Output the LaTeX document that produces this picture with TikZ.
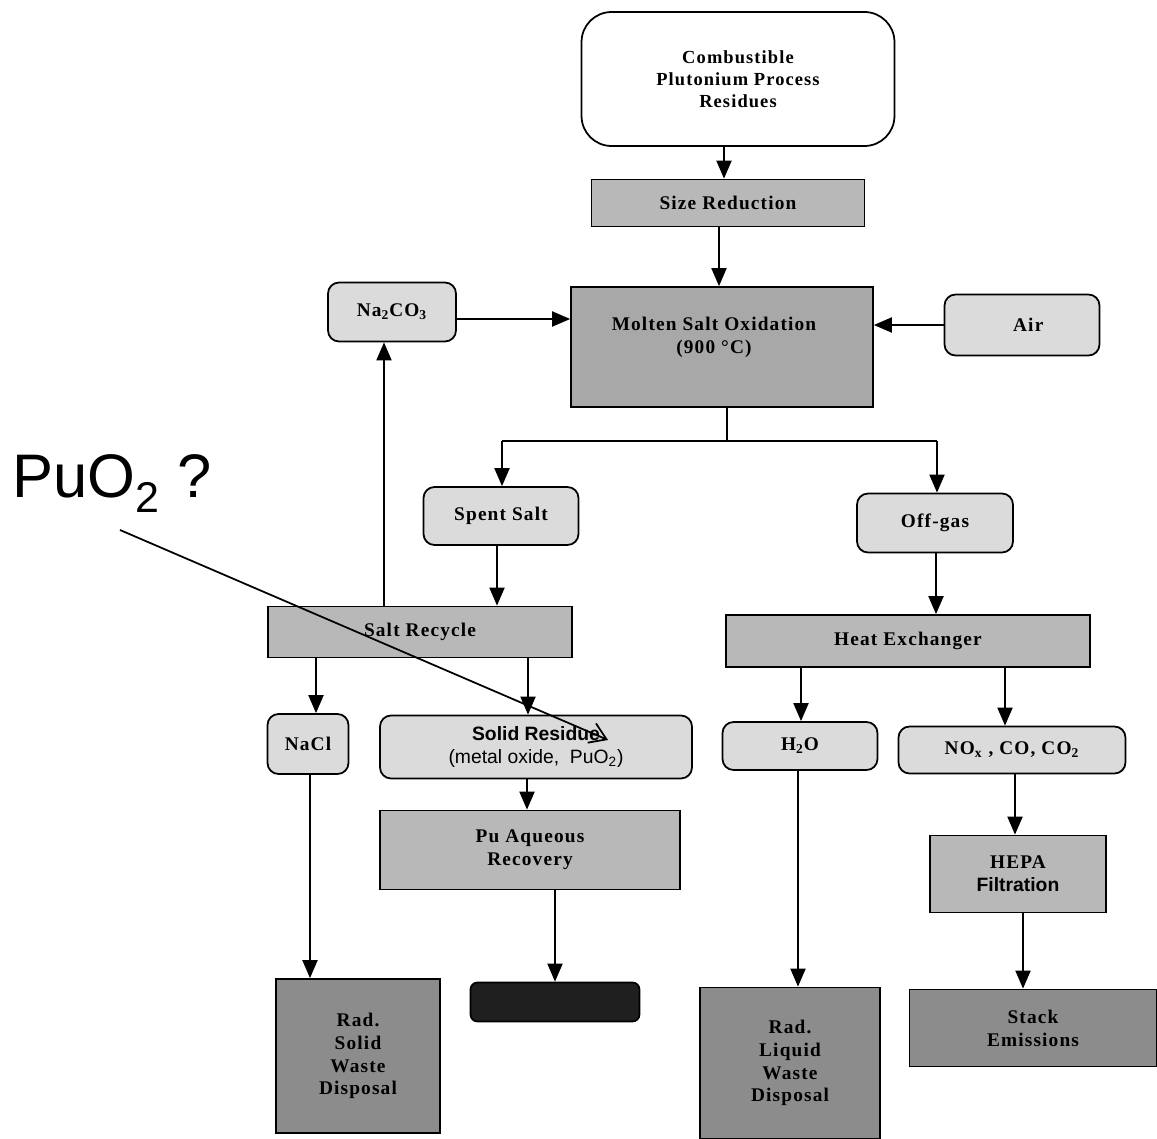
\documentclass[tikz,border=0pt]{standalone}
\usepackage{fontspec}
\setmainfont{Liberation Serif}
\newfontfamily\boxfont[LetterSpace=6]{Liberation Serif}
\newfontfamily\arialfont{Liberation Sans}
\usetikzlibrary{arrows.meta}
\definecolor{lightfill}{gray}{0.86}
\definecolor{midfill}{gray}{0.72}
\definecolor{msofill}{gray}{0.66}
\definecolor{darkfill}{gray}{0.55}
\tikzset{
  px/.style={x=0.02cm,y=-0.02cm},
  base/.style={draw=black,line width=1pt,align=center,inner sep=2pt,
    font=\boxfont\bfseries\fontsize{11}{13}\selectfont},
  roundbox/.style={base,rounded corners=0.22cm,fill=lightfill},
  graybox/.style={base,fill=midfill},
  darkbox/.style={base,fill=darkfill},
  arr/.style={line width=1.1pt,-{Triangle[length=0.36cm,width=0.3cm]}},
  plain/.style={line width=1.1pt},
  note/.style={line width=1pt,-{Straight Barb[length=0.32cm,width=0.42cm]}}
}
\begin{document}
\begin{tikzpicture}[px]
\useasboundingbox (0,0) rectangle (1157,1139);
% nodes
\node[base,rounded corners=0.6cm,fill=white,minimum width=6.26cm,minimum height=2.68cm,font=\boxfont\bfseries\fontsize{10.5}{12.5}\selectfont] (comb) at (738,79) {Combustible\\Plutonium Process\\Residues};
\node[graybox,minimum width=5.46cm,minimum height=0.94cm] (size) at (728,203) {Size Reduction};
\node[base,fill=msofill,minimum width=6.04cm,minimum height=2.4cm] (mso) at (722,347) {};
\node[base,draw=none,fill=none] (msotext) at (714,337) {Molten Salt Oxidation\\(900 °C)};
\node[roundbox,minimum width=2.56cm,minimum height=1.18cm] (na) at (392,312) {Na\textsubscript{2}CO\textsubscript{3}};
\node[roundbox,minimum width=3.1cm,minimum height=1.22cm] (air) at (1022,325) {\hspace{0.25cm}Air};
\node[roundbox,minimum width=3.1cm,minimum height=1.16cm] (spent) at (501,516) {Spent Salt};
\node[roundbox,minimum width=3.12cm,minimum height=1.18cm] (off) at (935,523) {Off-gas};
\node[graybox,minimum width=6.08cm,minimum height=1.02cm] (salt) at (420,632) {Salt Recycle};
\node[graybox,minimum width=7.28cm,minimum height=1.04cm] (heat) at (908,641) {Heat Exchanger};
\node[roundbox,minimum width=1.62cm,minimum height=1.2cm] (nacl) at (308,744) {NaCl};
\node[roundbox,minimum width=6.24cm,minimum height=1.26cm,font=\arialfont\fontsize{11}{13}\selectfont] (solid) at (536,747) {\textbf{Solid Residue}\\(metal oxide,\ \ PuO\textsubscript{2})};
\node[roundbox,minimum width=3.1cm,minimum height=0.96cm] (h2o) at (800,746) {H\textsubscript{2}O};
\node[roundbox,minimum width=4.54cm,minimum height=0.94cm] (nox) at (1012,750) {NO\textsubscript{x} , CO, CO\textsubscript{2}};
\node[graybox,minimum width=6cm,minimum height=1.58cm] (pu) at (530,850) {Pu Aqueous\\Recovery};
\node[graybox,minimum width=3.52cm,minimum height=1.54cm] (hepa) at (1018,874) {HEPA\\{\arialfont\bfseries Filtration}};
\node[base,rounded corners=0.14cm,fill=black!88,minimum width=3.38cm,minimum height=0.78cm,inner sep=0pt] (pubox) at (555,1002) {};
\node[darkbox,minimum width=3.28cm,minimum height=3.08cm] (radsolid) at (358,1056) {Rad.\\Solid\\Waste\\Disposal};
\node[darkbox,minimum width=3.6cm,minimum height=3.02cm] (radliq) at (790,1063) {Rad.\\Liquid\\Waste\\Disposal};
\node[darkbox,minimum width=4.94cm,minimum height=1.54cm] (stack) at (1033,1028) {Stack\\Emissions};
% annotation
\node[anchor=base west,inner sep=0pt,font=\arialfont\fontsize{35}{40}\selectfont] (puo) at (12,497) {PuO\textsubscript{2} ?};
\coordinate (pstart) at (120,530);
\coordinate (ptip) at (608,740);
% connectors
\draw[arr] (comb.south -| 724,0) -- (size.north -| 724,0);
\draw[arr] (size.south -| 719,0) -- (mso.north -| 719,0);
\draw[arr] (na.east |- 0,319) -- (mso.west |- 0,319);
\draw[arr] (air.west |- 0,325) -- (mso.east |- 0,325);
\coordinate (split) at (727,441);
\coordinate (sl) at (502,441);
\coordinate (sr) at (937,441);
\draw[plain] (mso.south -| split) -- (split);
\draw[plain] (sl) -- (sr);
\draw[arr] (sl) -- (spent.north -| sl);
\draw[arr] (sr) -- (off.north -| sr);
\draw[arr] (spent.south -| 497,0) -- (salt.north -| 497,0);
\draw[arr] (salt.north -| 384,0) -- (na.south -| 384,0);
\draw[arr] (salt.south -| 316,0) -- (nacl.north -| 316,0);
\draw[arr] (salt.south -| 528,0) -- (solid.north -| 528,0);
\draw[arr] (off.south -| 936,0) -- (heat.north -| 936,0);
\draw[arr] (heat.south -| 801,0) -- (h2o.north -| 801,0);
\draw[arr] (heat.south -| 1005,0) -- (nox.north -| 1005,0);
\draw[arr] (solid.south -| 527,0) -- (pu.north -| 527,0);
\draw[arr] (nacl.south -| 310,0) -- (radsolid.north -| 310,0);
\draw[arr] (pu.south -| 555,0) -- (pubox.north -| 555,0);
\draw[arr] (h2o.south -| 798,0) -- (radliq.north -| 798,0);
\draw[arr] (nox.south -| 1015,0) -- (hepa.north -| 1015,0);
\draw[arr] (hepa.south -| 1023,0) -- (stack.north -| 1023,0);
\draw[note] (pstart) -- (ptip);
\end{tikzpicture}
\end{document}
